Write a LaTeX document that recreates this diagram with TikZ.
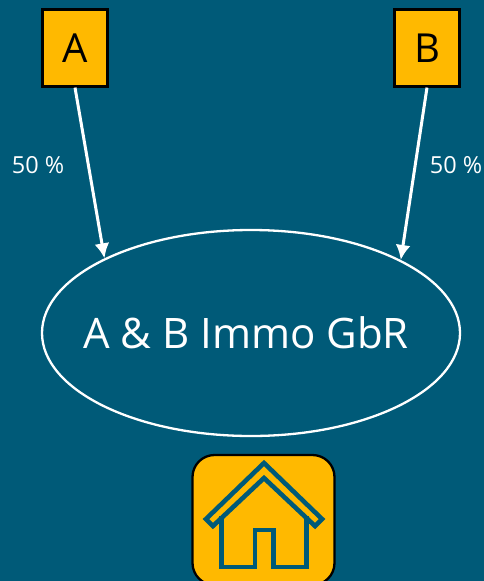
\documentclass[tikz,border=0pt]{standalone}
\usepackage{fontspec}
\setmainfont{Open Sans}
\usetikzlibrary{shapes.geometric,arrows.meta}
\definecolor{bg}{HTML}{005A78}
\definecolor{gold}{HTML}{FFB900}
\tikzset{
  owner/.style={draw=black,line width=2.2pt,fill=gold,minimum width=65pt,minimum height=77pt,inner sep=0pt,font=\fontsize{40}{44}\selectfont,text=black},
  share/.style={text=white,font=\fontsize{23.5}{27}\selectfont,inner sep=0pt},
  link/.style={draw=white,line width=3pt,-{Latex[length=15pt,width=15pt]}},
  house/.style={draw=bg,line width=4.6pt,line join=miter}
}
\begin{document}
\begin{tikzpicture}[x=1pt,y=-1pt]
\useasboundingbox (0,0) rectangle (484,581);
\clip (0,0) rectangle (484,581);
\fill[bg] (0,0) rectangle (484,581);
\node[owner] (A) at (75,48) {A};
\node[owner] (B) at (427,48) {B};
\node[ellipse,draw=white,line width=2.3pt,minimum width=418pt,minimum height=206pt,inner sep=0pt,inner xsep=-40pt,text=white,font=\fontsize{42}{46}\selectfont] (G) at (251,333) {A \& B Immo GbR\rule{10pt}{0pt}};
\draw[link] (A.south) -- (G.153.3);
\draw[link] (B.south) -- (G.26.7);
\node[share] (L1) at (38,165) {50 \%};
\node[share] (L2) at (456,165) {50 \%};
\node[draw=black,line width=2.3pt,fill=gold,rounded corners=22pt,minimum width=142pt,minimum height=130pt,inner sep=0pt] (H) at (263.5,520) {};
\draw[house] (264,463) -- (322,519) -- (315,526) -- (264,478) -- (213,526) -- (206,519) -- cycle;
\draw[house] (221.7,516) -- (221.7,567) -- (255,567) -- (255,530) -- (273.3,530) -- (273.3,567) -- (306.7,567) -- (306.7,516);
\end{tikzpicture}
\end{document}
